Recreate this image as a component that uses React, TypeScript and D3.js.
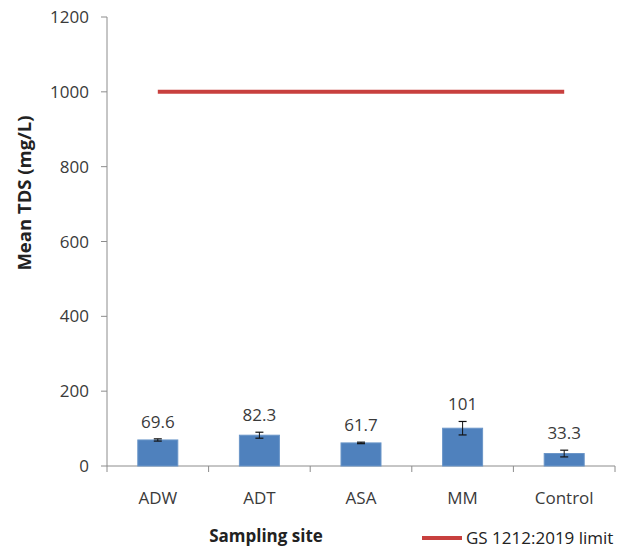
import React from "react";
import * as d3 from "d3";

const categories = ["ADW", "ADT", "ASA", "MM", "Control"];
const means = [69.6, 82.3, 61.7, 101, 33.3];
const errors = [3, 8, 2, 18, 9];
const labels = ["69.6", "82.3", "61.7", "101", "33.3"];
const limitValue = 1000;
const yTicks = [0, 200, 400, 600, 800, 1000, 1200];
const legendLabel = "GS 1212:2019 limit";

const W = 622;
const H = 548;
const left = 107;
const right = 615;
const top = 17;
const bottom = 466;
const font = "'Open Sans', 'Liberation Sans', sans-serif";

export default function App() {
  const x = d3.scaleBand<string>().domain(categories).range([left, right]).padding(0);
  const y = d3.scaleLinear().domain([0, 1200]).range([bottom, top]);
  const bw = 40;
  const axisColor = "#8c8c8c";
  const textColor = "#3a3a3a";
  const limitColor = "#c8403e";
  const c0 = x(categories[0])! + x.bandwidth() / 2;
  const cN = x(categories[categories.length - 1])! + x.bandwidth() / 2;

  return (
    <svg width={W} height={H} style={{ position: "absolute", left: 0, top: 0 }}>
      <rect width={W} height={H} fill="#fff" />
      {/* y axis */}
      <line x1={left} x2={left} y1={top} y2={bottom} stroke={axisColor} strokeWidth={1} />
      {yTicks.map((t) => (
        <g key={t}>
          <line x1={left - 6} x2={left} y1={y(t)} y2={y(t)} stroke={axisColor} />
          <text x={left - 18} y={y(t)} dy="0.36em" textAnchor="end" fontFamily={font} fontSize={17} fill={textColor}>
            {t}
          </text>
        </g>
      ))}
      {/* x axis */}
      <line x1={left} x2={right} y1={bottom} y2={bottom} stroke={axisColor} />
      {categories.map((c) => (
        <line key={"t" + c} x1={x(c)!} x2={x(c)!} y1={bottom} y2={bottom + 6} stroke={axisColor} />
      ))}
      <line x1={right} x2={right} y1={bottom} y2={bottom + 6} stroke={axisColor} />
      {/* bars */}
      {categories.map((c, i) => {
        const cx = x(c)! + x.bandwidth() / 2;
        const yTop = y(means[i] + errors[i]);
        const yBot = y(means[i] - errors[i]);
        return (
          <g key={c}>
            <rect x={cx - bw / 2} y={y(means[i])} width={bw} height={bottom - y(means[i])} fill="#4f81bd" stroke="#6a95c8" strokeWidth={1} />
            <line x1={cx} x2={cx} y1={yTop} y2={yBot} stroke="#111" strokeWidth={1} />
            <line x1={cx - 4} x2={cx + 4} y1={yTop} y2={yTop} stroke="#111" strokeWidth={1.2} />
            <line x1={cx - 4} x2={cx + 4} y1={yBot} y2={yBot} stroke="#111" strokeWidth={1.2} />
            <text x={cx} y={yTop - 11} textAnchor="middle" fontFamily={font} fontSize={17} fill={textColor}>
              {labels[i]}
            </text>
            <text x={cx} y={bottom + 38} textAnchor="middle" fontFamily={font} fontSize={17} fill={textColor}>
              {c}
            </text>
          </g>
        );
      })}
      {/* limit line */}
      <line x1={c0} x2={cN} y1={y(limitValue)} y2={y(limitValue)} stroke={limitColor} strokeWidth={4} />
      {/* axis titles */}
      <text x={266} y={542} textAnchor="middle" fontFamily={font} fontSize={17} fontWeight="bold" fill="#222">
        Sampling site
      </text>
      <text transform={`translate(31, ${193}) rotate(-90)`} textAnchor="middle" fontFamily={font} fontSize={18.5} fontWeight="bold" fill="#222">
        Mean TDS (mg/L)
      </text>
      {/* legend */}
      <line x1={422} x2={462} y1={538} y2={538} stroke={limitColor} strokeWidth={4} />
      <text x={466} y={544} fontFamily={font} fontSize={17} fill="#222">
        {legendLabel}
      </text>
    </svg>
  );
}
